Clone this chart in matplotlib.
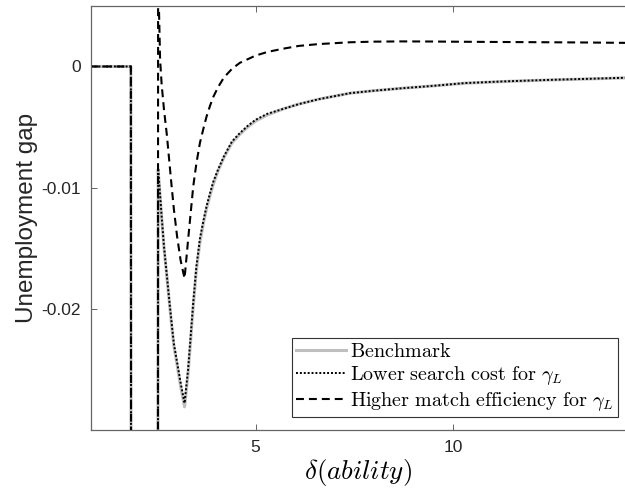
import numpy as np
import matplotlib.pyplot as plt

plt.rcParams['mathtext.fontset'] = 'cm'
plt.rcParams['font.family'] = ['Liberation Sans', 'DejaVu Sans']

# ability grid (shared by all three series)
delta = [0.82, 1.2, 1.6, 1.84, 1.85, 2.2, 2.52, 2.53, 2.58, 2.62, 2.68, 2.75, 2.81,
         2.87, 2.93, 3.01, 3.1, 3.2, 3.29, 3.42, 3.5, 3.59, 3.68, 3.76, 3.85, 3.93,
         4.05, 4.2, 4.4, 4.6, 4.8, 5.0, 5.3, 5.7, 6.1, 6.6, 7.4, 8.0, 8.7, 9.5,
         10.3, 11.3, 12.4, 13.4, 14.36]

benchmark = [0, 0, 0, 0, -0.08, -0.08, -0.08, -0.0085, -0.0107, -0.0125, -0.0150,
             -0.0173, -0.0193, -0.0213, -0.0231, -0.0246, -0.0264, -0.0281, -0.0253,
             -0.0198, -0.0168, -0.0145, -0.0129, -0.0117, -0.0106, -0.0097,
             -0.0086, -0.0075, -0.0063, -0.0056, -0.0050, -0.0045, -0.0040, -0.0035,
             -0.0031, -0.0027, -0.0022, -0.0020, -0.0018, -0.0016,
             -0.00138, -0.00124, -0.00112, -0.00103, -0.00094]

lower_cost = [0, 0, 0, 0, -0.08, -0.08, -0.08, -0.0084, -0.0106, -0.0124, -0.0149,
              -0.0172, -0.0192, -0.0211, -0.0229, -0.0244, -0.0261, -0.0278, -0.0250,
              -0.0195, -0.0165, -0.0142, -0.0127, -0.0115, -0.0104, -0.0095,
              -0.0085, -0.0074, -0.0062, -0.0055, -0.0049, -0.0044, -0.0039, -0.0035,
              -0.0031, -0.0027, -0.0022, -0.0020, -0.0018, -0.0016,
              -0.00137, -0.00123, -0.00111, -0.00102, -0.00093]

higher_match = [0, 0, 0, 0, -0.08, -0.08, -0.08, 0.008, 0.0006, -0.0015, -0.0036,
                -0.0056, -0.0077, -0.0098, -0.0118, -0.0140, -0.0160, -0.0175, -0.0143,
                -0.0099, -0.0080, -0.0063, -0.0051, -0.0041, -0.0032, -0.0025,
                -0.0017, -0.0009, -0.0002, 0.0003, 0.0006, 0.0009, 0.0012, 0.00147,
                0.0017, 0.00185, 0.0020, 0.00205, 0.00207, 0.00206,
                0.00204, 0.00202, 0.0020, 0.00198, 0.00195]

yticks = [-0.02, -0.01, 0]
yticklabels = ['-0.02', '-0.01', '0']
xticks = [5, 10]

fig = plt.figure(figsize=(6.25, 4.93), dpi=100)
ax = fig.add_axes([0.145, 0.128, 0.855, 0.86])

ax.plot(delta, benchmark, color='0.75', lw=2.2, label=r'$\mathrm{Benchmark}$')
ax.plot(delta, lower_cost, color='black', lw=1.4, linestyle=(0, (1, 1)),
        label=r'$\mathrm{Lower\ search\ cost\ for\ }\gamma_L$')
ax.plot(delta, higher_match, color='black', lw=1.5, linestyle=(0, (3.8, 2.4)),
        label=r'$\mathrm{Higher\ match\ efficiency\ for\ }\gamma_L$')

ax.set_xlim(0.82, 14.36)
ax.set_ylim(-0.030, 0.005)
ax.set_xticks(xticks)
ax.set_xticklabels([str(t) for t in xticks])
ax.set_yticks(yticks)
ax.set_yticklabels(yticklabels)
ax.tick_params(direction='in', length=4, width=0.6, color='0.3', labelsize=12.5,
               labelcolor='0.15', top=True, right=False, pad=7)

for side in ['left', 'bottom', 'top']:
    ax.spines[side].set_color('0.4')
    ax.spines[side].set_linewidth(0.9)
ax.spines['right'].set_visible(False)

ax.set_ylabel('Unemployment gap', fontsize=17.5, labelpad=2, color='0.15')
ax.set_xlabel(r'$\delta(ability)$', fontsize=19.5, labelpad=2)

leg = ax.legend(loc='lower right', bbox_to_anchor=(0.987, 0.031), borderaxespad=0,
                fontsize=14.5, handlelength=2.5, handletextpad=0.2, labelspacing=0.15,
                borderpad=0.2, fancybox=False, framealpha=1, edgecolor='0.2')
leg.get_frame().set_linewidth(0.8)

plt.savefig('out.png', dpi=100)
